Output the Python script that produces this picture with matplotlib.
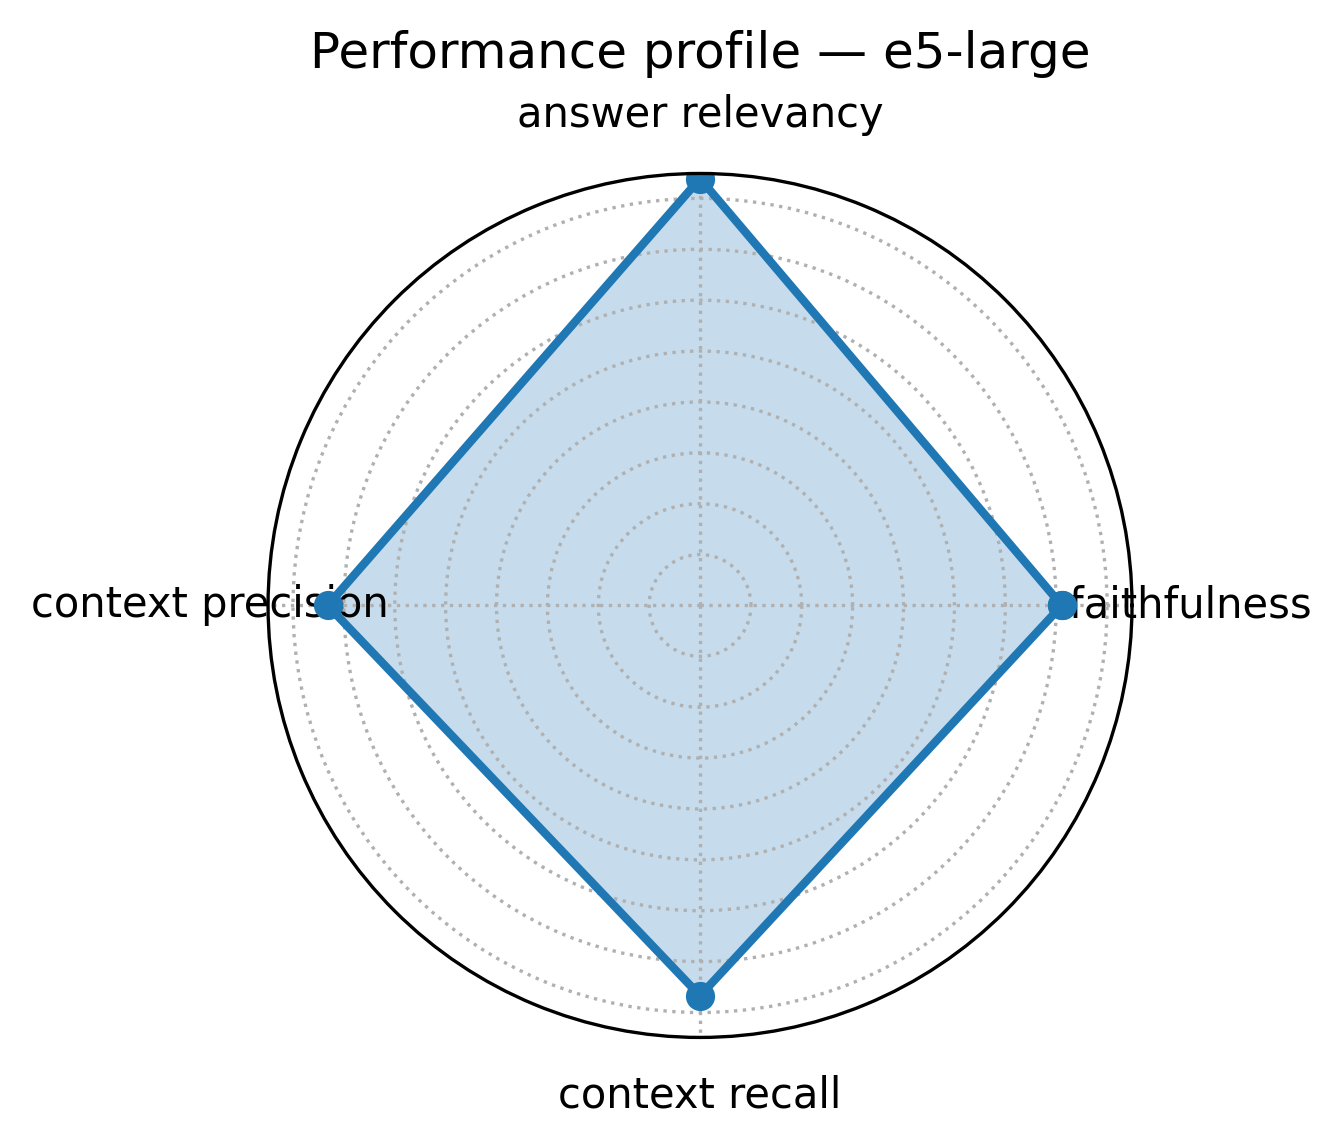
import matplotlib
matplotlib.use('Agg')
import matplotlib.pyplot as plt
import numpy as np

model_name = 'e5-large'
metrics = ['faithfulness', 'answer relevancy', 'context precision', 'context recall']
scores = [0.711, 0.839, 0.732, 0.767]

angles = np.linspace(0, 2 * np.pi, len(metrics), endpoint=False)
angles_closed = np.concatenate([angles, angles[:1]])
scores_closed = scores + scores[:1]

fig = plt.figure(figsize=(1343 / 300, 1148 / 300), dpi=300)
ax = fig.add_axes([0.1996, 0.0963, 0.6433, 0.7526], projection='polar')

ax.plot(angles_closed, scores_closed, 'o-', color='C0', linewidth=2)
ax.fill(angles_closed, scores_closed, color='C0', alpha=0.25)

ax.set_thetagrids(np.degrees(angles), metrics)
ax.tick_params(axis='x', labelsize=10)
ax.set_ylim(0, max(scores) + 0.01)
ax.set_yticks(np.arange(0.1, 0.85, 0.1))
ax.set_yticklabels([])
ax.grid(True, linestyle=':', color='#b0b0b0', linewidth=0.8)

ax.set_title(f'Performance profile \u2014 {model_name}', fontsize=12, y=1.122, pad=0)

fig.savefig('out.png', dpi=300)
